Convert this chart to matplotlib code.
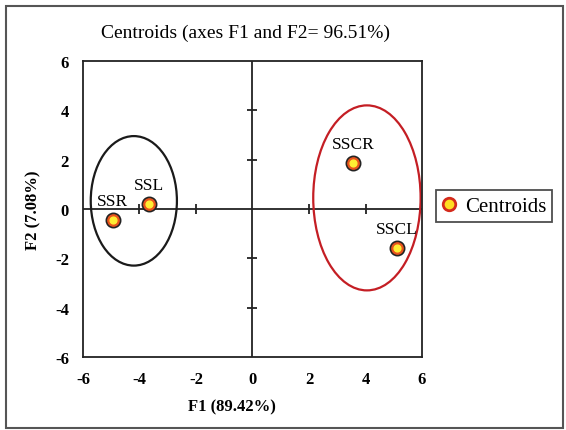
import matplotlib
matplotlib.use("Agg")
import matplotlib.pyplot as plt
from matplotlib.patches import Ellipse, Rectangle
from matplotlib.lines import Line2D

# centroid data
names = ['SSR', 'SSL', 'SSCR', 'SSCL']
f1 = [-4.95, -3.65, 3.55, 5.1]
f2 = [-0.45, 0.2, 1.85, -1.6]

# confidence ellipses: center x, center y, width, height
ell_cx = [-4.2, 4.05]
ell_cy = [0.33, 0.45]
ell_w = [3.05, 3.8]
ell_h = [5.25, 7.5]
ell_col = ['#1a1a1a', '#c41e24']

ticks = [-6, -4, -2, 0, 2, 4, 6]

plt.rcParams['font.family'] = ['Liberation Serif', 'DejaVu Serif']
plt.rcParams['axes.unicode_minus'] = False

fig = plt.figure(figsize=(5.66, 4.31), dpi=100)
ax = fig.add_axes([0.1466, 0.1694, 0.599, 0.6868])

# outer frame around whole picture
fig.patches.append(Rectangle((0.011, 0.005), 0.984, 0.979, transform=fig.transFigure,
                             fill=False, edgecolor='#555555', linewidth=1.5))

ax.set_xlim(-6, 6)
ax.set_ylim(-6, 6)
ax.set_xticks(ticks)
ax.set_yticks(ticks)
ax.tick_params(length=0, pad=10, labelsize=12)
for lbl in ax.get_xticklabels() + ax.get_yticklabels():
    lbl.set_fontweight('bold')
for sp in ax.spines.values():
    sp.set_linewidth(1.3)
    sp.set_color('#222222')

# axes through origin with small ticks
ax.axhline(0, color='#222222', lw=1.3, zorder=1)
ax.axvline(0, color='#222222', lw=1.3, zorder=1)
inner = [t for t in ticks if t not in (-6, 0, 6)]
ax.plot(inner, [0] * len(inner), ls='none', marker='|', ms=7, mew=1.3, color='#222222', zorder=1)
ax.plot([0] * len(inner), inner, ls='none', marker='_', ms=7, mew=1.3, color='#222222', zorder=1)

for cx, cy, w, h, c in zip(ell_cx, ell_cy, ell_w, ell_h, ell_col):
    ax.add_patch(Ellipse((cx, cy), w, h, fill=False, edgecolor=c, linewidth=1.6, zorder=2))

# layered marker: black ring, orange ring, yellow core
ax.scatter(f1, f2, s=110, color='#222222', zorder=3)
ax.scatter(f1, f2, s=66, color='#e8541c', zorder=4)
ax.scatter(f1, f2, s=24, color='#ffee33', zorder=5)

for n, x, y in zip(names, f1, f2):
    ax.annotate(n, (x, y), xytext=(0, 8), textcoords='offset points',
                ha='center', va='bottom', fontsize=12.5)

ax.set_title('Centroids (axes F1 and F2= 96.51%)', fontsize=14, pad=17, x=0.478)
ax.set_xlabel('F1 (89.42%)', fontsize=12, fontweight='bold', labelpad=8)
ax.xaxis.label.set_x(0.44)
ax.set_ylabel('F2 (7.08%)', fontsize=12, fontweight='bold', labelpad=10)

handle = Line2D([], [], ls='none', marker='o', ms=9, markerfacecolor='#ffdd22',
                markeredgecolor='#d42a1c', markeredgewidth=2)
leg = ax.legend([handle], ['Centroids'], loc='center left', bbox_to_anchor=(1.04, 0.51),
                fontsize=15, frameon=True, fancybox=False, edgecolor='#222222',
                handlelength=0.7, handletextpad=0.4, borderpad=0.3, borderaxespad=0)
leg.get_frame().set_linewidth(1.3)

fig.savefig('out.png', dpi=100)
